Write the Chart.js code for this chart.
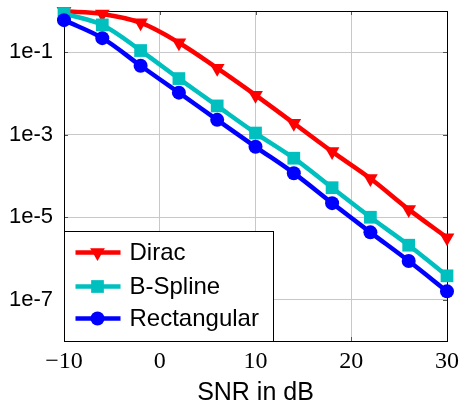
<!DOCTYPE html>
<html>
<head>
<meta charset="utf-8">
<script src="https://cdn.jsdelivr.net/npm/chart.js@4.4.1/dist/chart.umd.min.js"></script>
<style>
    html, body { margin: 0; padding: 0; background: #fff; }
    canvas { display: block; }
</style>
</head>
<body>
<canvas id="snrChart" width="461" height="408"></canvas>
<script>
// values (BER vs SNR)
var snr = [-10, -6, -2, 2, 6, 10, 14, 18, 22, 26, 30];
var dirac = [0.98, 0.85, 0.52, 0.17, 0.041, 9.1e-3, 1.9e-3, 3.9e-4, 8.7e-5, 1.55e-5, 3.2e-6];
var bSpline = [0.87, 0.46, 0.11, 0.023, 5.0e-3, 1.1e-3, 2.7e-4, 5.2e-5, 1.0e-5, 2.1e-6, 3.8e-7];
var rectangular = [0.60, 0.22, 0.047, 0.0105, 2.3e-3, 5.1e-4, 1.17e-4, 2.2e-5, 4.3e-6, 8.7e-7, 1.6e-7];
var seriesLabels = ['Dirac', 'B-Spline', 'Rectangular'];
var xTicks = [-10, 0, 10, 20, 30];
var yTicks = [1e-1, 1e-3, 1e-5, 1e-7];

var SANS = '"Liberation Sans", Arial, sans-serif';
var SERIF = '"Liberation Serif", "Times New Roman", serif';

function toPoints(ys) {
    return snr.map(function (x, i) { return {x: x, y: ys[i]}; });
}

function drawMarker(ctx, style, x, y, r, color) {
    ctx.save();
    ctx.fillStyle = color;
    ctx.beginPath();
    if (style === 'triangle') {
        // pointing down
        ctx.moveTo(x, y + r);
        ctx.lineTo(x - r * 0.866, y - r * 0.5);
        ctx.lineTo(x + r * 0.866, y - r * 0.5);
        ctx.closePath();
    } else if (style === 'rect') {
        var s = r * Math.SQRT1_2;
        ctx.rect(x - s, y - s, 2 * s, 2 * s);
    } else {
        ctx.arc(x, y, r, 0, Math.PI * 2);
    }
    ctx.fill();
    ctx.restore();
}

// box round the plot plus the small inward tick marks
var framePlugin = {
    id: 'frame',
    beforeDatasetsDraw: function (chart) {
        var ctx = chart.ctx, a = chart.chartArea;
        var xs = chart.scales.x, ys = chart.scales.y;
        ctx.save();
        ctx.strokeStyle = '#555';
        ctx.lineWidth = 1;
        ctx.beginPath();
        xTicks.forEach(function (v) {
            var px = Math.round(xs.getPixelForValue(v)) + 0.5;
            ctx.moveTo(px, a.top); ctx.lineTo(px, a.top + 4);
            ctx.moveTo(px, a.bottom); ctx.lineTo(px, a.bottom - 4);
        });
        yTicks.forEach(function (v) {
            var py = Math.round(ys.getPixelForValue(v)) + 0.5;
            ctx.moveTo(a.left, py); ctx.lineTo(a.left + 4, py);
            ctx.moveTo(a.right, py); ctx.lineTo(a.right - 4, py);
        });
        ctx.stroke();
        ctx.strokeStyle = '#000';
        ctx.strokeRect(Math.round(a.left) + 0.5, Math.round(a.top) + 0.5,
            Math.round(a.right - a.left), Math.round(a.bottom - a.top));
        ctx.restore();
    }
};

// legend box in the lower left corner of the plot
var legendPlugin = {
    id: 'innerLegend',
    afterDatasetsDraw: function (chart) {
        var ctx = chart.ctx, a = chart.chartArea;
        var left = Math.round(a.left) + 0.5, bottom = Math.round(a.bottom) + 0.5;
        var w = 209, h = 110, top = bottom - h;
        ctx.save();
        ctx.fillStyle = '#fff';
        ctx.fillRect(left, top, w, h);
        ctx.strokeStyle = '#000';
        ctx.lineWidth = 1;
        ctx.strokeRect(left, top, w, h);
        var rows = [21, 55, 87];
        ctx.font = '24px ' + SANS;
        ctx.textBaseline = 'middle';
        ctx.textAlign = 'left';
        chart.data.datasets.forEach(function (ds, i) {
            var y = top + rows[i];
            ctx.strokeStyle = ds.borderColor;
            ctx.lineWidth = 4.5;
            ctx.beginPath();
            ctx.moveTo(left + 11, y);
            ctx.lineTo(left + 56, y);
            ctx.stroke();
            drawMarker(ctx, ds.pointStyle, left + 33, y, ds.pointRadius, ds.backgroundColor);
            ctx.fillStyle = '#000';
            ctx.fillText(ds.label, left + 65, y + 1);
        });
        ctx.restore();
    }
};

// chart.js draws points itself, the legend reuses the style fields
var lineDataset = function (label, ys, color, style, radius, order) {
    return {
        label: label,
        data: toPoints(ys),
        borderColor: color,
        backgroundColor: color,
        borderWidth: 4.5,
        pointStyle: style,
        pointRadius: radius,
        pointRotation: style === 'triangle' ? 180 : 0,
        pointBorderWidth: 0,
        tension: 0.35,
        clip: false,
        order: order
    };
};

new Chart(document.getElementById('snrChart'), {
    type: 'line',
    data: {
        datasets: [
            lineDataset(seriesLabels[0], dirac, '#ff0000', 'triangle', 8.5, 3),
            lineDataset(seriesLabels[1], bSpline, '#00bfbf', 'rect', 9, 2),
            lineDataset(seriesLabels[2], rectangular, '#0000ff', 'circle', 7, 1)
        ]
    },
    options: {
        responsive: false,
        animation: false,
        layout: {padding: {top: 11, right: 14, left: 0, bottom: 0}},
        plugins: {
            legend: {display: false},
            tooltip: {enabled: false}
        },
        scales: {
            x: {
                type: 'linear',
                min: -10,
                max: 30,
                afterBuildTicks: function (scale) {
                    scale.ticks = xTicks.map(function (v) { return {value: v}; });
                },
                afterFit: function (scale) {
                    scale.height = 67;
                    scale.paddingLeft = 0;
                    scale.paddingRight = 0;
                },
                ticks: {
                    padding: 6,
                    color: '#000',
                    font: {family: SERIF, size: 24},
                    maxRotation: 0,
                    callback: function (v) { return v < 0 ? '\u2212' + Math.abs(v) : String(v); }
                },
                grid: {color: '#c8c8c8', drawTicks: false},
                border: {color: '#000'},
                title: {
                    display: true,
                    text: 'SNR in dB',
                    color: '#000',
                    font: {family: SANS, size: 25},
                    padding: {top: 0, bottom: 0}
                }
            },
            y: {
                type: 'logarithmic',
                min: 1e-8,
                max: 1,
                afterBuildTicks: function (scale) {
                    scale.ticks = yTicks.map(function (v) { return {value: v}; });
                },
                afterFit: function (scale) {
                    scale.width = 64;
                    scale.paddingTop = 0;
                    scale.paddingBottom = 0;
                },
                ticks: {
                    padding: 11,
                    color: '#000',
                    font: {family: SANS, size: 22},
                    callback: function (v) { return '1e' + Math.round(Math.log10(v)); }
                },
                grid: {color: '#c8c8c8', drawTicks: false},
                border: {color: '#000'}
            }
        }
    },
    plugins: [framePlugin, legendPlugin]
});
</script>
</body>
</html>
